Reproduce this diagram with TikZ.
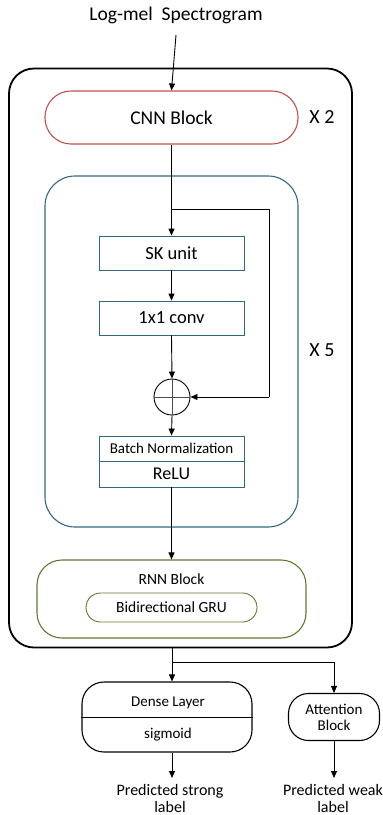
\documentclass[tikz,border=0pt]{standalone}
\usepackage{fontspec}
\setmainfont{Carlito}
\usetikzlibrary{arrows.meta,calc}
\definecolor{cnnred}{RGB}{192,80,77}
\definecolor{tealc}{RGB}{49,104,128}
\definecolor{olive}{RGB}{98,122,48}
\begin{document}
\begin{tikzpicture}[x=1pt,y=-1pt,
  arr/.style={-{Triangle[length=7pt,width=6pt]},line width=0.9pt},
  ln/.style={line width=0.9pt},
  tbox/.style={draw=tealc,line width=0.9pt,minimum width=145pt,inner sep=0pt},
  lbl/.style={inner sep=0pt,align=center}]
\useasboundingbox (0,0) rectangle (383,815);
% outer box
\node[draw,line width=1.8pt,rounded corners=25pt,minimum width=343pt,minimum height=579pt,inner sep=0pt] (outer) at (180.5,358) {};
% input
\node[lbl,font=\fontsize{19.5}{21}\selectfont] (inp) at (176,15) {Log-mel\ \ Spectrogram};
% CNN
\node[draw=cnnred,line width=1.1pt,rounded corners=26pt,minimum width=253pt,minimum height=53pt,inner sep=0pt,font=\fontsize{19.5}{21}\selectfont] (cnn) at (171.5,117.5) {CNN Block};
\node[lbl,font=\fontsize{20}{22}\selectfont] (x2) at (322,117) {X 2};
% teal block
\node[draw=tealc,line width=1.1pt,rounded corners=30pt,minimum width=253pt,minimum height=351pt,inner sep=0pt] (res) at (171.5,351.5) {};
\node[lbl,font=\fontsize{20}{22}\selectfont] (x5) at (322,350) {X 5};
\node[tbox,minimum height=34pt,font=\fontsize{18.5}{20}\selectfont] (sk) at (171.5,253) {SK unit};
\node[tbox,minimum height=34pt,font=\fontsize{18.5}{20}\selectfont] (conv) at (171.5,318) {1x1 conv};
\node[draw,circle,line width=0.9pt,minimum size=36pt,inner sep=0pt] (add) at (172,397) {};
\draw[line width=0.6pt,black!70] (add.west) -- (add.east) (add.north) -- (add.south);
\node[tbox,minimum height=25pt,font=\fontsize{15}{17}\selectfont] (bn) at (171.5,448.5) {Batch Normalization};
\node[tbox,minimum height=26pt,font=\fontsize{18}{20}\selectfont] (relu) at (171.5,474) {ReLU};
\coordinate (split) at (172,209);
\coordinate (fbr) at (269,209);
\coordinate (fbd) at (269,397);
% RNN
\node[draw=olive,line width=1.1pt,rounded corners=25pt,minimum width=269pt,minimum height=78pt,inner sep=0pt] (rnn) at (171.5,599) {};
\node[lbl,font=\fontsize{15.5}{17}\selectfont] (rnnt) at (171.5,579) {RNN Block};
\node[draw=olive,line width=0.9pt,rounded corners=14.5pt,minimum width=171pt,minimum height=29pt,inner sep=0pt,font=\fontsize{15.5}{17}\selectfont] (gru) at (171.5,607.5) {Bidirectional GRU};
% outputs
\coordinate (ob) at (172,648);
\coordinate (br) at (172,662);
\coordinate (brr) at (334,662);
\coordinate (se) at (172,778);
\coordinate (we) at (334,778);
\node[draw,line width=1.1pt,rounded corners=22pt,minimum width=170pt,minimum height=70pt,inner sep=0pt] (dense) at (167,717) {};
\draw[ln] (dense.west |- 0,717) -- (dense.east |- 0,717);
\node[lbl,font=\fontsize{15}{17}\selectfont] (denset) at (168,703) {Dense Layer};
\node[lbl,font=\fontsize{15}{17}\selectfont] (sigt) at (168,735) {sigmoid};
\node[draw,line width=1.1pt,rounded corners=20pt,minimum width=91pt,minimum height=47pt,inner sep=0pt,align=center,font=\fontsize{15}{17}\selectfont] (att) at (334,717) {Attention\\[-1pt]Block};
\node[lbl,font=\fontsize{16}{17}\selectfont,anchor=north] (ps) at (170,784) {Predicted strong\\label};
\node[lbl,font=\fontsize{16}{17}\selectfont,anchor=north] (pw) at (333,784) {Predicted weak\\label};
% connectors
\draw[arr] (inp.south |- 0,35) -- (cnn.north);
\draw[arr] (cnn.south) -- (sk.north);
\draw[ln] (split) -- (fbr) -- (fbd);
\draw[arr] (fbd) -- (add.east);
\draw[arr] (sk.south) -- (conv.north);
\draw[arr] (conv.south) -- (add.north);
\draw[arr] (add.south) -- (bn.north);
\draw[arr] (relu.south) -- (rnn.north);
\draw[ln] (ob) -- (br) -- (brr);
\draw[arr] (br) -- (br |- dense.north);
\draw[arr] (brr) -- (att.north);
\draw[arr] (br |- dense.south) -- (se);
\draw[arr] (att.south) -- (we);
\end{tikzpicture}
\end{document}
